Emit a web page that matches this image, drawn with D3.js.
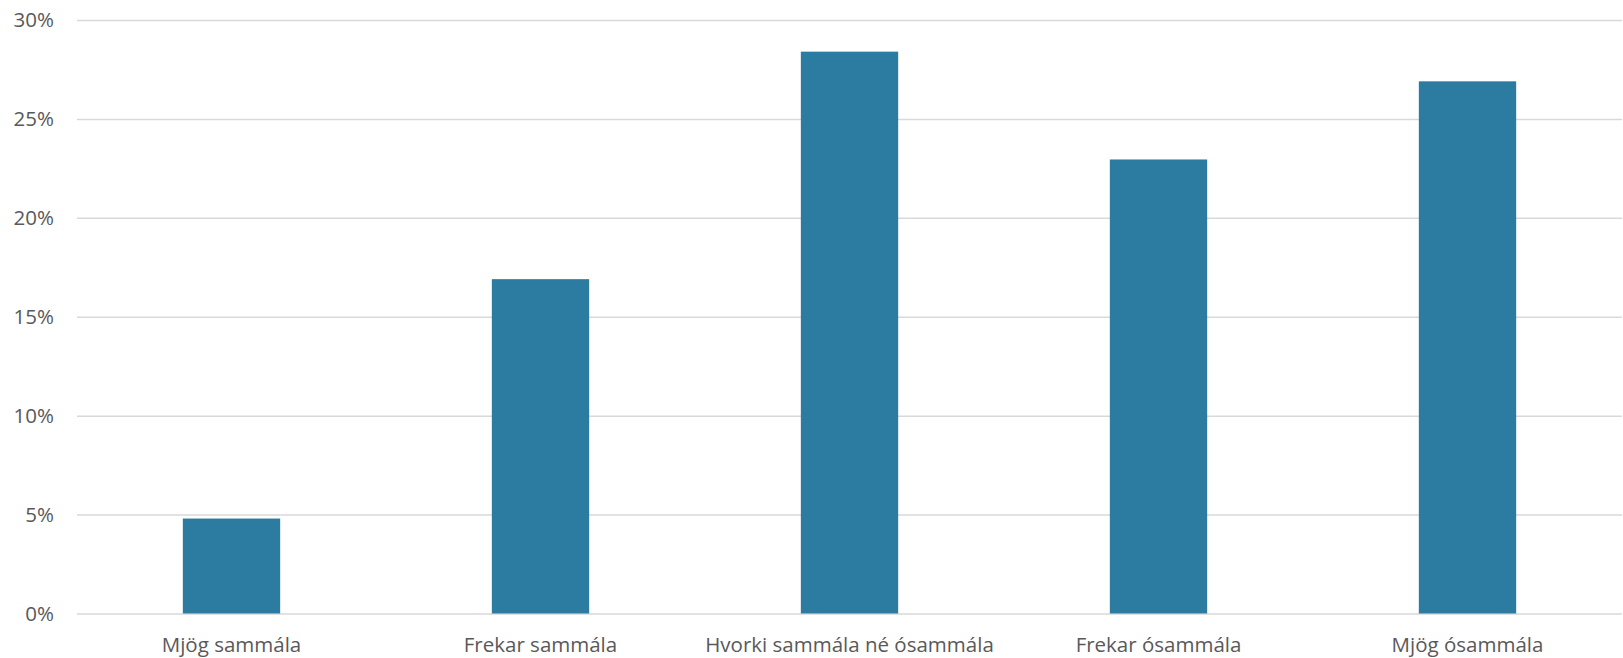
<!DOCTYPE html>
<html>
<head>
<meta charset="utf-8">
<script src="https://cdn.jsdelivr.net/npm/d3@7"></script>
<style>
  html, body { margin: 0; padding: 0; background: #fff; }
  svg { display: block; }
</style>
</head>
<body>
<svg id="chart" width="1623" height="658"></svg>
<script>
const categories = ["Mjög sammála", "Frekar sammála", "Hvorki sammála né ósammála", "Frekar ósammála", "Mjög ósammála"];
const values = [0.048, 0.169, 0.284, 0.2295, 0.269];
const yTicks = [0, 0.05, 0.10, 0.15, 0.20, 0.25, 0.30];

const W = 1623, H = 658;
const margin = { left: 77, right: 1, top: 20, bottom: 44.5 };
const svg = d3.select("#chart");

const x = d3.scaleBand().domain(categories).range([margin.left, W - margin.right]).padding(0);
const y = d3.scaleLinear().domain([0, 0.30]).range([H - margin.bottom, margin.top]);
const barW = x.bandwidth() * 0.315;
const font = "'Open Sans', sans-serif";

// gridlines
svg.append("g")
  .call(d3.axisLeft(y).tickValues(yTicks).tickSize(-(W - margin.right - margin.left)).tickFormat(""))
  .attr("transform", `translate(${margin.left},0)`)
  .call(g => g.select(".domain").remove())
  .call(g => g.selectAll("line").attr("stroke", "#d9d9d9").attr("stroke-width", 1.5));

// y tick labels
svg.append("g")
  .selectAll("text").data(yTicks).join("text")
  .attr("x", 54).attr("y", d => y(d)).attr("dy", "0.36em")
  .attr("text-anchor", "end")
  .attr("font-family", font).attr("font-size", 20.5).attr("fill", "#595959")
  .text(d => d3.format(".0%")(d));

// bars
svg.append("g")
  .selectAll("rect").data(categories).join("rect")
  .attr("x", (d) => x(d) + (x.bandwidth() - barW) / 2)
  .attr("width", barW)
  .attr("y", (d, i) => y(values[i]))
  .attr("height", (d, i) => y(0) - y(values[i]))
  .attr("fill", "#2c7ba0");

// x labels
svg.append("g")
  .selectAll("text").data(categories).join("text")
  .attr("x", d => x(d) + x.bandwidth() / 2)
  .attr("y", 652)
  .attr("text-anchor", "middle")
  .attr("font-family", font).attr("font-size", 20.5).attr("fill", "#595959")
  .text(d => d);
</script>
</body>
</html>
